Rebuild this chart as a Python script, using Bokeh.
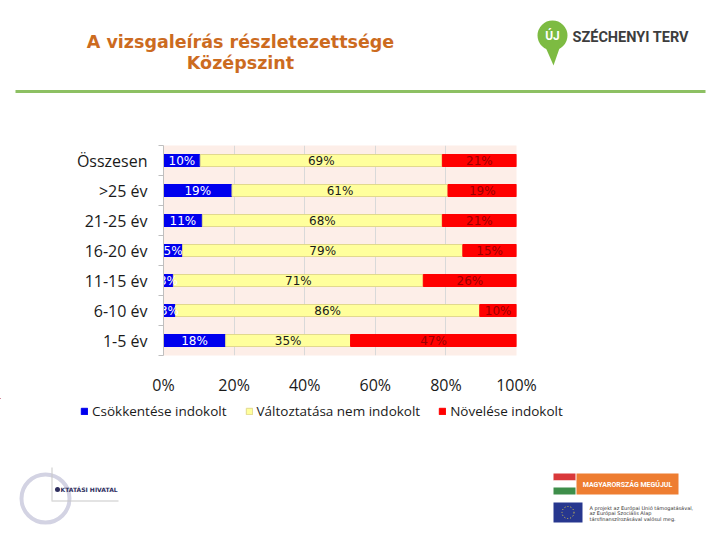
import numpy as np
from bokeh.plotting import figure
from bokeh.models import (ColumnDataSource, Range1d, FixedTicker, Legend, LegendItem)
from bokeh.embed import file_html
from bokeh.resources import INLINE
from bokeh.core.properties import value

# ---------------- data ----------------
categories = ["1-5 év", "6-10 év", "11-15 év", "16-20 év", "21-25 év", ">25 év", "Összesen"]
csokkentese = [17.6, 3.4, 2.8, 5.4, 11.0, 19.4, 10.4]
valtoztatasa = [35.4, 86.2, 70.8, 79.4, 68.0, 61.2, 68.6]
novelese = [47.0, 10.4, 26.4, 15.2, 21.0, 19.4, 21.0]
series_names = ["Csökkentése indokolt", "Változtatása nem indokolt", "Növelése indokolt"]
x_ticks = [0, 20, 40, 60, 80, 100]
x_tick_labels = ["0%", "20%", "40%", "60%", "80%", "100%"]
title_lines = ["A vizsgaleírás részletezettsége", "Középszint"]

# ---------------- styles ----------------
bar_colors = ["#0000EE", "#FFFF9C", "#FF0000"]
bar_lines = ["#0000EE", "#E2D98E", "#FF0000"]
label_colors = ["#FFFFFF", "#1A1A1A", "#990000"]
W = 720


def deco_figure(height, y_top):
    f = figure(width=W, height=height, output_backend="svg", toolbar_location=None,
               x_range=Range1d(0, W), y_range=Range1d(y_top + height, y_top),
               min_border=0, outline_line_color=None)
    f.axis.visible = False
    f.grid.visible = False
    f.border_fill_color = "white"
    f.background_fill_color = "white"
    return f


def txt(f, x, y, text, size, color, font="DejaVu Sans", style="normal", align="left"):
    f.text(x=[x], y=[y], text=[text], text_font=value(font), text_font_size=size,
           text_color=color, text_font_style=style, text_align=align, text_baseline="middle")


# ---------------- header ----------------
head = deco_figure(100, 0)
txt(head, 240, 41, title_lines[0], "17.5px", "#CC6B1F", style="bold", align="center")
txt(head, 240, 62, title_lines[1], "17.5px", "#CC6B1F", style="bold", align="center")
head.quad(left=[15], right=[705], top=[89.5], bottom=[92.5], fill_color="#8DC063", line_color=None)
head.patch(x=[543, 561, 553], y=[42, 42, 65], fill_color="#7DBB42", line_color=None)
head.circle(x=[552], y=[35], radius=15, fill_color="#7DBB42", line_color=None)
txt(head, 552, 35, "ÚJ", "12px", "white", font="Roboto", style="bold", align="center")
txt(head, 572, 37, "SZÉCHENYI TERV", "14.5px", "#3D3D3D", font="Roboto", style="bold")

# ---------------- chart ----------------
ypos = [i + 0.5 for i in range(len(categories))]
src = ColumnDataSource(dict(y=ypos, c=csokkentese, v=valtoztatasa, n=novelese))

p = figure(width=W, height=298, output_backend="svg", toolbar_location=None,
           x_range=Range1d(0, 100), y_range=Range1d(0, len(categories)),
           min_border_left=163, min_border_right=204, min_border_top=45,
           min_border_bottom=38)
p.background_fill_color = "#FDEEE8"
p.border_fill_color = "white"
p.outline_line_color = None

renderers = p.hbar_stack(["c", "v", "n"], y="y", height=0.4, source=src,
                         fill_color=bar_colors, line_color=bar_lines, line_width=1)

lx, ly, lt, lc = [], [], [], []
for i in range(len(categories)):
    start = 0.0
    for vals, col in zip([csokkentese, valtoztatasa, novelese], label_colors):
        v = vals[i]
        lx.append(start + v / 2.0)
        ly.append(ypos[i])
        lt.append(f"{round(v)}%")
        lc.append(col)
        start += v
lsrc = ColumnDataSource(dict(x=lx, y=ly, t=lt, c=lc))
p.text(x="x", y="y", text="t", text_color="c", source=lsrc,
       text_font=value("DejaVu Sans"), text_font_size="12px",
       text_align="center", text_baseline="middle")

p.xaxis.ticker = FixedTicker(ticks=x_ticks)
p.xaxis.major_label_overrides = {t: l for t, l in zip(x_ticks, x_tick_labels)}
p.xaxis.axis_line_color = None
p.xaxis.major_tick_line_color = None
p.xaxis.minor_tick_line_color = None
p.xaxis.major_label_standoff = 12
p.xaxis.major_label_text_font = "Open Sans"
p.xaxis.major_label_text_font_size = "16px"
p.xaxis.major_label_text_color = "#1A1A1A"

p.yaxis.ticker = FixedTicker(ticks=ypos, minor_ticks=list(range(len(categories) + 1)))
p.yaxis.major_label_overrides = {y: c for y, c in zip(ypos, categories)}
p.yaxis.axis_line_color = "#BFBFBF"
p.yaxis.major_tick_line_color = None
p.yaxis.major_tick_out = 0
p.yaxis.minor_tick_line_color = "#BFBFBF"
p.yaxis.minor_tick_out = 5
p.yaxis.minor_tick_in = 0
p.yaxis.major_label_standoff = 11
p.yaxis.major_label_text_font = "Open Sans"
p.yaxis.major_label_text_font_size = "16px"
p.yaxis.major_label_text_color = "#1A1A1A"

p.xgrid.ticker = FixedTicker(ticks=x_ticks)
p.xgrid.grid_line_color = "#D9D9D9"
p.ygrid.grid_line_color = None

# ---------------- footer (legend + logos) ----------------
foot = deco_figure(140, 398)
# zero-size swatch renderers (kept outside the visible area) that carry the series styles for the legend
legend_renderers = [foot.hbar(y=[300], left=[-100], right=[-100], height=0, fill_color=fc, line_color=lcol)
                    for fc, lcol in zip(bar_colors, bar_lines)]
legend = Legend(items=[LegendItem(label=n, renderers=[r]) for n, r in zip(series_names, legend_renderers)],
                location=(80, 118), orientation="horizontal",
                background_fill_alpha=0, border_line_color=None, padding=0, margin=0,
                spacing=18, glyph_width=8, glyph_height=8, label_standoff=4,
                label_text_font="Open Sans", label_text_font_size="13.5px",
                label_text_color="#1A1A1A", label_height=12)
foot.add_layout(legend)

foot.circle(x=[45], y=[498], radius=24, fill_color=None, line_color="#D3D3E3", line_width=4)
foot.quad(left=[51], right=[52], top=[467], bottom=[500], fill_color="#C8C8C8", line_color=None)
foot.quad(left=[51], right=[118], top=[500], bottom=[501], fill_color="#C8C8C8", line_color=None)
foot.circle(x=[57], y=[489], radius=2.5, fill_color="#2E2E5E", line_color=None)
txt(foot, 60, 489, "KTATÁSI HIVATAL", "6px", "#2E2E5E", style="bold")

foot.quad(left=[553, 553, 553], right=[575, 575, 575], top=[473, 480, 487], bottom=[480, 487, 494],
          fill_color=["#D9383A", "#FFFFFF", "#3E8E4A"], line_color=None)
foot.quad(left=[576], right=[678], top=[473], bottom=[494], fill_color="#EE7D31", line_color=None)
txt(foot, 627, 484, "MAGYARORSZÁG MEGÚJUL", "7px", "white", font="Roboto", style="bold", align="center")
foot.quad(left=[553], right=[582], top=[502], bottom=[522], fill_color="#27378F", line_color=None)
foot.circle(x=[567.5], y=[512], radius=6, fill_color=None, line_color="#E6D24A", line_width=1,
            line_dash="1 2")
txt(foot, 589, 507, "A projekt az Európai Unió támogatásával,", "5px", "#333333")
txt(foot, 589, 512.5, "az Európai Szociális Alap", "5px", "#333333")
txt(foot, 589, 518, "társfinanszírozásával valósul meg.", "5px", "#333333")

open("out.html", "w").write(file_html([head, p, foot], INLINE))
